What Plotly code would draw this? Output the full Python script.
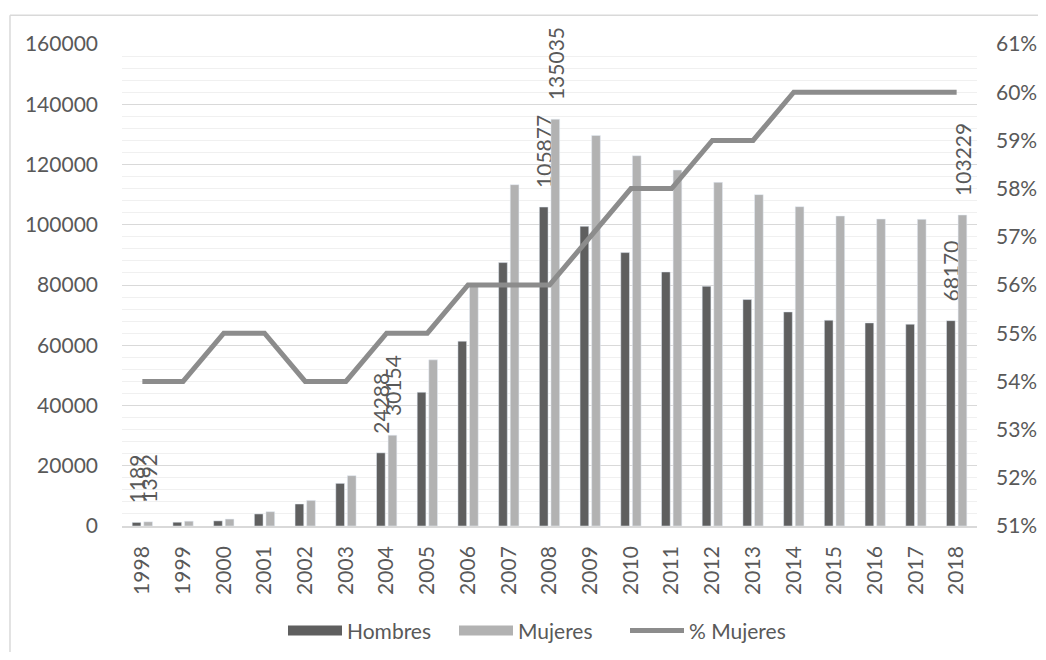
import plotly.graph_objects as go

years = [str(y) for y in range(1998, 2019)]
hombres = [1189, 1250, 1700, 4000, 7300, 14150, 24288, 44400, 61350, 87440, 105877,
           99480, 90760, 84330, 79580, 75170, 71060, 68300, 67420, 66980, 68170]
mujeres = [1392, 1600, 2300, 4750, 8500, 16700, 30154, 55150, 79500, 113300, 135035,
           129650, 122900, 118150, 114070, 110000, 106000, 102900, 101900, 101800, 103229]
pct_mujeres = [0.54, 0.54, 0.55, 0.55, 0.54, 0.54, 0.55, 0.55, 0.56, 0.56, 0.56,
               0.57, 0.58, 0.58, 0.59, 0.59, 0.60, 0.60, 0.60, 0.60, 0.60]
labeled_years = ["1998", "2004", "2008", "2018"]

FONT = "Lato"
FS = 21
TXT = "#595959"
C_H = "#5f5f5f"
C_M = "#b2b2b2"
C_L = "#8c8c8c"
PAD = "\u00a0\u00a0\u00a0"

def labels(vals):
    return [PAD + str(v) if y in labeled_years else "" for y, v in zip(years, vals)]

fig = go.Figure()
fig.add_trace(go.Bar(
    x=years, y=hombres, name="Hombres", marker_color=C_H, showlegend=False,
    text=labels(hombres), textposition="outside", textangle=-90,
    constraintext="none", cliponaxis=False,
    textfont=dict(family=FONT, size=FS, color=TXT),
))
fig.add_trace(go.Bar(
    x=years, y=mujeres, name="Mujeres", marker_color=C_M, showlegend=False,
    text=labels(mujeres), textposition="outside", textangle=-90,
    constraintext="none", cliponaxis=False,
    textfont=dict(family=FONT, size=FS, color=TXT),
))
# legend-only entries drawn as wide swatches
fig.add_trace(go.Scatter(x=[years[0]], y=[None], name="Hombres", mode="lines",
                         line=dict(color=C_H, width=13)))
fig.add_trace(go.Scatter(x=[years[0]], y=[None], name="Mujeres", mode="lines",
                         line=dict(color=C_M, width=13)))
fig.add_trace(go.Scatter(
    x=years, y=pct_mujeres, name="% Mujeres", mode="lines",
    line=dict(color=C_L, width=5), yaxis="y2",
))

# page body has an 8px margin: figure is 1030x644 placed at (8, 8)
fig.update_layout(
    width=1030, height=644,
    margin=dict(l=114, r=61, t=36, b=126, autoexpand=False),
    paper_bgcolor="white", plot_bgcolor="white",
    font=dict(family=FONT, size=FS, color=TXT),
    barmode="group", bargap=0.43, bargroupgap=0.25,
    showlegend=True,
    legend=dict(orientation="h", x=0.4883, xanchor="center", y=-0.2176, yanchor="middle",
                font=dict(family=FONT, size=FS, color=TXT), itemwidth=54,
                entrywidth=102, entrywidthmode="pixels",
                traceorder="normal"),
    xaxis=dict(type="category", tickangle=-90, showgrid=False, showline=True,
               linecolor="#d9d9d9", linewidth=1.5, ticks="", automargin=False,
               ticklabelstandoff=10,
               tickfont=dict(family=FONT, size=FS, color=TXT)),
    yaxis=dict(range=[0, 160000], dtick=20000, tickformat="d", showgrid=True,
               gridcolor="#d9d9d9", gridwidth=1.2, zeroline=False, ticks="",
               automargin=False, ticklabelstandoff=23,
               tickfont=dict(family=FONT, size=FS, color=TXT),
               minor=dict(dtick=4000, showgrid=True, gridcolor="#f0f0f0", gridwidth=1)),
    yaxis2=dict(range=[0.51, 0.61], dtick=0.01, tickformat=".0%", overlaying="y",
                side="right", showgrid=False, zeroline=False, ticks="",
                automargin=False, ticklabelstandoff=18,
                tickfont=dict(family=FONT, size=FS, color=TXT)),
    shapes=[
        dict(type="line", xref="paper", yref="paper", x0=-0.131, x1=1.2, y0=1.0597, y1=1.0597,
             line=dict(color="#d9d9d9", width=1.5)),
        dict(type="line", xref="paper", yref="paper", x0=-0.131, x1=-0.131, y0=1.0597, y1=-0.3,
             line=dict(color="#d9d9d9", width=1.5)),
    ],
)

fig.write_html("out.html")
